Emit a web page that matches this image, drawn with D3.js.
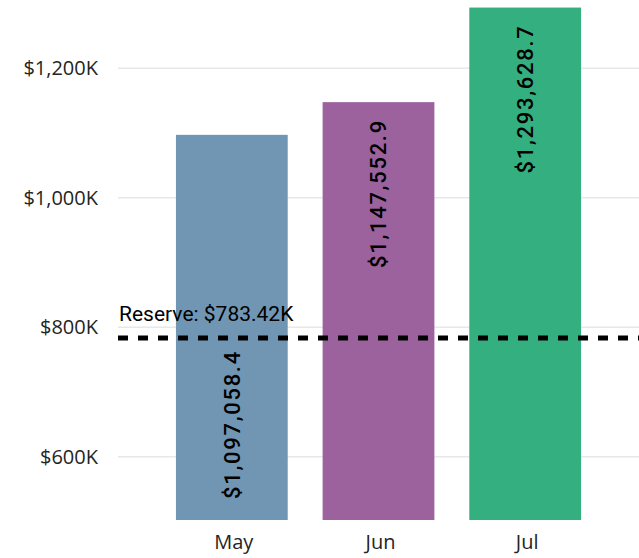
<!DOCTYPE html>
<html>
<head>
<meta charset="utf-8">
<script src="https://cdn.jsdelivr.net/npm/d3@7/dist/d3.min.js"></script>
<style>
  html, body { margin: 0; padding: 0; background: #ffffff; }
  svg { display: block; }
</style>
</head>
<body>
<div id="chart"></div>
<script>
// ---- data ----
const months = ["May", "Jun", "Jul"];
const amounts = [1097058.4, 1147552.9, 1293628.7];
const barColors = ["#7096B4", "#9B629E", "#34B080"];
const labelAnchors = ["base", "end", "end"];
const reserveValue = 783420;
const reserveText = "Reserve: $783.42K";
const yTicks = [600000, 800000, 1000000, 1200000];

// ---- layout ----
const W = 639, H = 558;
const plot = { left: 118, right: 639, top: 0, bottom: 520 };

const svg = d3.select("#chart").append("svg")
  .attr("width", W).attr("height", H);

const x = d3.scaleBand()
  .domain(months)
  .range([plot.left, plot.right])
  .paddingInner(0.238)
  .paddingOuter(0.395);

const y = d3.scaleLinear()
  .domain([502200, 1305300])
  .range([plot.bottom, plot.top]);

const fmtTick = v => "$" + d3.format(",")(v / 1000) + "K";
const fmtLabel = v => "$" + d3.format(",.1f")(v);

// gridlines
svg.append("g")
  .selectAll("line")
  .data(yTicks)
  .join("line")
  .attr("x1", plot.left)
  .attr("x2", plot.right)
  .attr("y1", d => y(d))
  .attr("y2", d => y(d))
  .attr("stroke", "#e8e8e8")
  .attr("stroke-width", 1.5);

// y axis labels
const yAxis = d3.axisLeft(y).tickValues(yTicks).tickFormat(fmtTick).tickSize(0).tickPadding(0);
const gy = svg.append("g").attr("transform", `translate(${plot.left - 20},0)`).call(yAxis);
gy.select(".domain").remove();
gy.selectAll("text")
  .attr("font-family", "'Segoe UI', 'Open Sans', sans-serif")
  .attr("font-size", 20)
  .attr("fill", "#252423");

// bars
svg.append("g")
  .selectAll("rect")
  .data(months)
  .join("rect")
  .attr("x", d => x(d))
  .attr("width", x.bandwidth())
  .attr("y", (d, i) => y(amounts[i]))
  .attr("height", (d, i) => plot.bottom - y(amounts[i]))
  .attr("fill", (d, i) => barColors[i]);

// x axis labels
const xAxis = d3.axisBottom(x).tickSize(0).tickPadding(0);
const gx = svg.append("g").attr("transform", `translate(2,${plot.bottom + 15})`).call(xAxis);
gx.select(".domain").remove();
gx.selectAll("text")
  .attr("font-family", "'Segoe UI', 'Open Sans', sans-serif")
  .attr("font-size", 20)
  .attr("fill", "#252423");

// reserve line
svg.append("line")
  .attr("x1", plot.left)
  .attr("x2", plot.right)
  .attr("y1", y(reserveValue))
  .attr("y2", y(reserveValue))
  .attr("stroke", "#000")
  .attr("stroke-width", 5)
  .attr("stroke-dasharray", "10,10");

svg.append("text")
  .attr("x", plot.left + 1)
  .attr("y", y(reserveValue) - 17)
  .attr("font-family", "Roboto, sans-serif")
  .attr("font-size", 21)
  .attr("fill", "#000")
  .text(reserveText);

// data labels
svg.append("g")
  .selectAll("text")
  .data(months)
  .join("text")
  .attr("transform", (d, i) => {
    const cx = x(d) + x.bandwidth() / 2;
    const ty = labelAnchors[i] === "base" ? plot.bottom - 21 : y(amounts[i]) + 17;
    return `translate(${cx},${ty}) rotate(-90)`;
  })
  .attr("text-anchor", (d, i) => labelAnchors[i] === "base" ? "start" : "end")
  .attr("dy", "0.36em")
  .attr("font-family", "Roboto, sans-serif")
  .attr("font-size", 22)
  .attr("font-weight", 500)
  .attr("letter-spacing", 1.7)
  .attr("fill", "#000")
  .text((d, i) => fmtLabel(amounts[i]));
</script>
</body>
</html>
